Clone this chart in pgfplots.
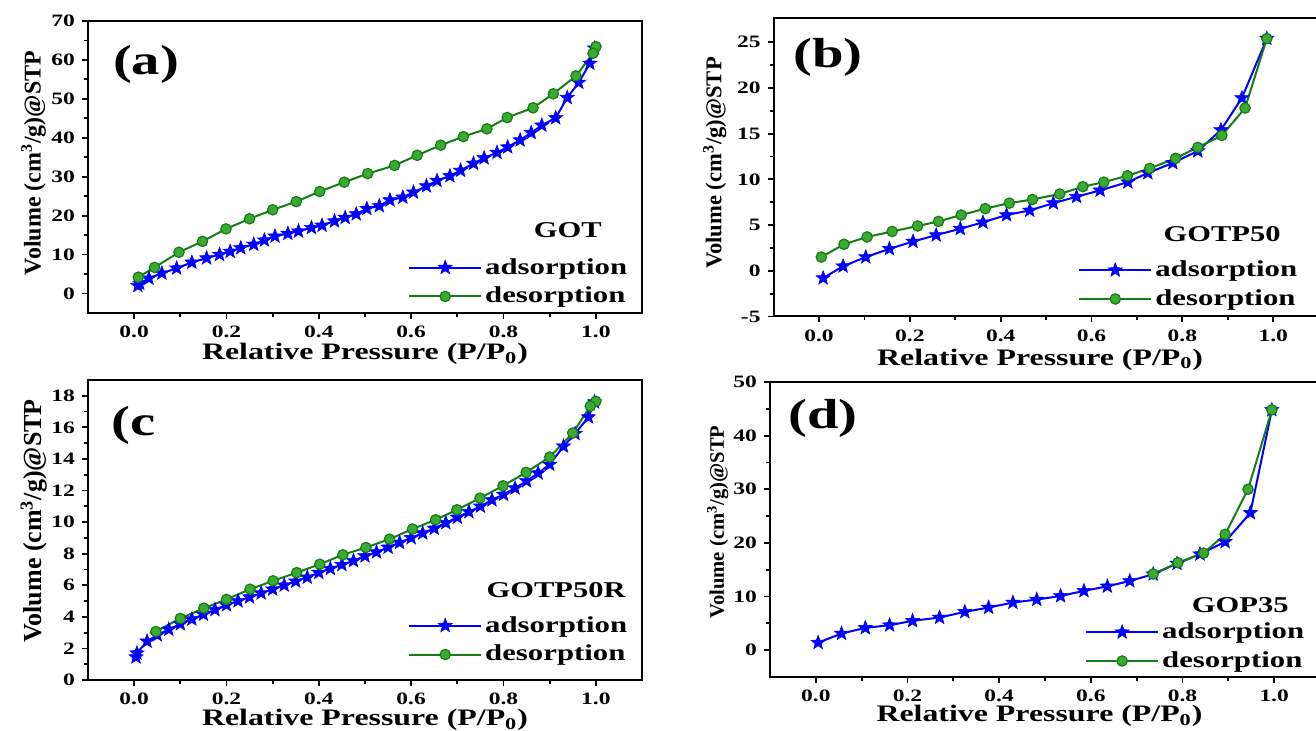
\documentclass[border=0pt]{standalone}
\usepackage{pgfplots}
\pgfplotsset{compat=1.18}
\usepackage{fontspec}
\setmainfont{Liberation Serif}
\newfontfamily\wf{Liberation Serif}[FakeStretch=1.35]
\definecolor{dgreen}{RGB}{20,125,20}
\definecolor{lgreen}{RGB}{60,170,50}
\pgfdeclareplotmark{fstar}{%
  \pgfpathmoveto{\pgfpointpolar{90}{\pgfplotmarksize}}%
  \pgfpathlineto{\pgfpointpolar{126}{0.42\pgfplotmarksize}}%
  \pgfpathlineto{\pgfpointpolar{162}{\pgfplotmarksize}}%
  \pgfpathlineto{\pgfpointpolar{198}{0.42\pgfplotmarksize}}%
  \pgfpathlineto{\pgfpointpolar{234}{\pgfplotmarksize}}%
  \pgfpathlineto{\pgfpointpolar{270}{0.42\pgfplotmarksize}}%
  \pgfpathlineto{\pgfpointpolar{306}{\pgfplotmarksize}}%
  \pgfpathlineto{\pgfpointpolar{342}{0.42\pgfplotmarksize}}%
  \pgfpathlineto{\pgfpointpolar{18}{\pgfplotmarksize}}%
  \pgfpathlineto{\pgfpointpolar{54}{0.42\pgfplotmarksize}}%
  \pgfpathclose
  \pgfusepathqfillstroke
}
\tikzset{
  tag/.style={font=\wf\bfseries\fontsize{21}{23}\selectfont},
  sname/.style={font=\wf\bfseries\fontsize{11.3}{13}\selectfont},
}
\pgfplotsset{
  myax/.style={
    scale only axis,
    xmin=-0.1, xmax=1.1,
    xtick={0,0.2,0.4,0.6,0.8,1.0},
    minor x tick num=1, minor y tick num=1,
    tick align=outside, xtick pos=bottom, ytick pos=left,
    axis line style={line width=1pt},
    major tick length=3pt, minor tick length=1.8pt,
    every tick/.style={black, line width=0.9pt},
    tick label style={font=\wf\bfseries\fontsize{8.7}{10}\selectfont},
    /pgf/number format/assume math mode=true,
    xticklabel={\pgfmathprintnumber[fixed,fixed zerofill,precision=1]{\tick}},
    xlabel={Relative Pressure (P/P\textsubscript{0})},
    ylabel={Volume (cm\textsuperscript{3}/g)@STP},
    xlabel style={font=\wf\bfseries\fontsize{11.8}{13}\selectfont, anchor=base},
    ylabel style={anchor=center},
    legend style={draw=none, fill=none, inner sep=0pt, outer sep=0pt,
      font=\wf\bfseries\fontsize{11.4}{13}\selectfont, anchor=west,
      nodes={inner sep=1.5pt}, row sep=2pt},
    legend cell align=left,
    legend image code/.code={\draw[mark repeat=2,mark phase=2] plot coordinates {(0pt,0pt) (18pt,0pt) (36pt,0pt)};},
    clip=false,
  },
  ads/.style={blue, line width=1pt, mark=fstar, mark size=3.7pt,
    mark options={fill=blue, draw=blue, line width=0.3pt}},
  des/.style={dgreen, line width=1pt, mark=*, mark size=2.6pt,
    mark options={fill=lgreen, draw=dgreen, line width=0.6pt}},
}
\begin{document}
\begin{tikzpicture}
\path[use as bounding box] (0,0) rectangle (658pt,365.5pt);
% ---------- (a) ----------
\begin{axis}[myax, at={(44pt,209pt)}, anchor=south west, width=277pt, height=146pt,
  ymin=-5, ymax=70, ytick={0,10,20,30,40,50,60,70},
  xlabel style={at={(axis description cs:0.5,-0.16)}},
  ylabel style={at={(axis description cs:-0.098,0.514)}, font=\bfseries\fontsize{12}{14}\selectfont},
  legend style={at={(axis description cs:0.578,0.106)}, anchor=west}]
\addplot[ads] coordinates {
(0.008,2.0) (0.012,2.6) (0.032,3.9) (0.06,5.2) (0.092,6.5) (0.125,8.0) (0.157,9.1)
(0.185,10.0) (0.208,10.8) (0.231,11.7) (0.259,12.6) (0.282,13.7) (0.305,14.7)
(0.333,15.4) (0.356,16.0) (0.384,16.9) (0.407,17.5) (0.434,18.6) (0.457,19.5)
(0.481,20.4) (0.504,21.8) (0.531,22.5) (0.554,24.0) (0.582,24.7) (0.605,26.0)
(0.633,27.6) (0.656,29.0) (0.684,30.2) (0.707,31.6) (0.735,33.4) (0.758,34.8)
(0.786,36.2) (0.809,37.6) (0.836,39.4) (0.86,41.3) (0.883,43.2) (0.913,45.1)
(0.938,50.3) (0.963,54.2) (0.987,59.1) (0.997,63.0)};
\addlegendentry{adsorption}
\addplot[des] coordinates {
(1.0,63.4) (0.994,61.7) (0.957,55.9) (0.908,51.3) (0.864,47.7) (0.808,45.2)
(0.764,42.3) (0.713,40.3) (0.664,38.1) (0.613,35.5) (0.564,32.9) (0.506,30.8)
(0.455,28.6) (0.402,26.2) (0.351,23.6) (0.30,21.5) (0.25,19.2) (0.199,16.6)
(0.148,13.4) (0.097,10.6) (0.044,6.7) (0.009,4.2)};
\addlegendentry{desorption}
\node[sname] at (rel axis cs:0.866,0.283) {GOT};
\node[tag] at (rel axis cs:0.105,0.853) {(a)};
\end{axis}
% ---------- (b) ----------
\begin{axis}[myax, at={(386.8pt,207.25pt)}, anchor=south west, width=272.5pt, height=149pt,
  ymin=-5, ymax=27.6, ytick={-5,0,5,10,15,20,25},
  xlabel style={at={(axis description cs:0.489,-0.163)}},
  ylabel style={at={(axis description cs:-0.108,0.515)}, font=\bfseries\fontsize{11.3}{13}\selectfont},
  legend style={at={(axis description cs:0.559,0.107)}, anchor=west}]
\addplot[ads] coordinates {
(0.009,-0.8) (0.053,0.5) (0.103,1.5) (0.155,2.4) (0.207,3.2) (0.258,3.9) (0.311,4.6)
(0.361,5.3) (0.413,6.1) (0.464,6.6) (0.516,7.4) (0.567,8.1) (0.619,8.8) (0.68,9.7)
(0.724,10.7) (0.779,11.8) (0.834,13.1) (0.885,15.4) (0.931,18.9) (0.986,25.4)};
\addlegendentry{adsorption}
\addplot[des] coordinates {
(0.986,25.4) (0.938,17.8) (0.887,14.8) (0.834,13.5) (0.785,12.3) (0.728,11.2)
(0.679,10.4) (0.627,9.7) (0.581,9.2) (0.53,8.4) (0.47,7.8) (0.419,7.4) (0.366,6.8)
(0.313,6.1) (0.263,5.4) (0.217,4.9) (0.161,4.3) (0.106,3.7) (0.055,2.9) (0.005,1.5)};
\addlegendentry{desorption}
\node[sname] at (rel axis cs:0.823,0.277) {GOTP50};
\node[tag] at (rel axis cs:0.10,0.871) {(b)};
\end{axis}
% ---------- (c) ----------
\begin{axis}[myax, at={(44pt,25.5pt)}, anchor=south west, width=277pt, height=150pt,
  ymin=0, ymax=19, ytick={0,2,4,6,8,10,12,14,16,18},
  xlabel style={at={(axis description cs:0.5,-0.152)}},
  ylabel style={at={(axis description cs:-0.098,0.53)}, font=\bfseries\fontsize{13}{15}\selectfont},
  legend style={at={(axis description cs:0.578,0.133)}, anchor=west}]
\addplot[ads] coordinates {
(0.004,1.45) (0.006,1.7) (0.028,2.45) (0.05,2.85) (0.075,3.2) (0.1,3.55) (0.125,3.85)
(0.15,4.15) (0.175,4.45) (0.2,4.75) (0.225,5.0) (0.25,5.25) (0.275,5.5) (0.3,5.75)
(0.325,6.0) (0.35,6.25) (0.375,6.5) (0.4,6.8) (0.425,7.05) (0.45,7.3) (0.475,7.55)
(0.5,7.85) (0.525,8.1) (0.55,8.4) (0.575,8.7) (0.6,9.0) (0.625,9.3) (0.65,9.6)
(0.675,9.95) (0.7,10.3) (0.725,10.65) (0.75,11.0) (0.775,11.4) (0.8,11.75)
(0.825,12.15) (0.85,12.6) (0.875,13.1) (0.9,13.65) (0.93,14.8) (0.955,15.6)
(0.984,16.65) (0.997,17.6)};
\addlegendentry{adsorption}
\addplot[des] coordinates {
(1.0,17.65) (0.988,17.34) (0.95,15.64) (0.9,14.12) (0.849,13.15) (0.799,12.3)
(0.749,11.52) (0.699,10.78) (0.653,10.15) (0.603,9.56) (0.553,8.92) (0.502,8.39)
(0.452,7.93) (0.402,7.33) (0.352,6.8) (0.301,6.28) (0.251,5.75) (0.2,5.1)
(0.151,4.55) (0.1,3.9) (0.047,3.07)};
\addlegendentry{desorption}
\node[sname] at (rel axis cs:0.845,0.30) {GOTP50R};
\node[tag] at (rel axis cs:0.082,0.85) {(c};
\end{axis}
% ---------- (d) ----------
\begin{axis}[myax, at={(385pt,27pt)}, anchor=south west, width=275pt, height=147.5pt,
  ymin=-5, ymax=50, ytick={0,10,20,30,40,50},
  xlabel style={at={(axis description cs:0.49,-0.152)}},
  ylabel style={at={(axis description cs:-0.095,0.525)}, font=\bfseries\fontsize{10.3}{12}\selectfont},
  legend style={at={(axis description cs:0.573,0.103)}, anchor=west}]
\addplot[ads] coordinates {
(0.005,1.4) (0.056,3.1) (0.108,4.16) (0.161,4.66) (0.211,5.47) (0.27,6.09) (0.325,7.14)
(0.377,7.95) (0.43,8.88) (0.482,9.44) (0.534,10.1) (0.585,11.06) (0.636,11.9)
(0.685,12.9) (0.736,14.16) (0.788,16.15) (0.838,17.9) (0.893,20.2) (0.948,25.6)
(0.995,44.8)};
\addlegendentry{adsorption}
\addplot[des] coordinates {
(0.995,44.8) (0.943,30.0) (0.893,21.6) (0.846,18.1) (0.79,16.3) (0.736,14.2)};
\addlegendentry{desorption}
\node[sname] at (rel axis cs:0.855,0.244) {GOP35};
\node[tag] at (rel axis cs:0.096,0.878) {(d)};
\end{axis}
\end{tikzpicture}
\end{document}
